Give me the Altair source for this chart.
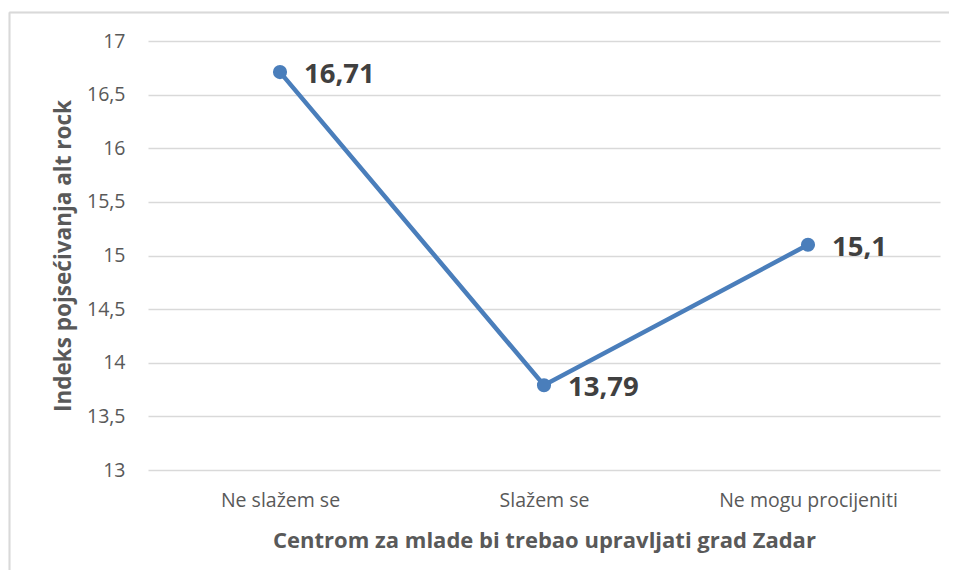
import altair as alt
import pandas as pd

categories = ["Ne slažem se", "Slažem se", "Ne mogu procijeniti"]
values = [16.71, 13.79, 15.1]
labels = ["16,71", "13,79", "15,1"]

df = pd.DataFrame({"cat": categories, "val": values, "lab": labels})

FONT = "Open Sans"
LINE = "#4a7ebb"

x = alt.X("cat:N", sort=categories,
          scale=alt.Scale(type="point", padding=0.5),
          axis=alt.Axis(title="Centrom za mlade bi trebao upravljati grad Zadar",
                        labelAngle=0, ticks=False, domain=False, grid=False,
                        labelFontSize=19.5, labelColor="#595959", labelFont=FONT,
                        labelPadding=21,
                        titleFontSize=22, titleFontWeight="bold", titleColor="#595959",
                        titleFont=FONT, titlePadding=21))
y = alt.Y("val:Q",
          scale=alt.Scale(domain=[13, 17], nice=False, zero=False),
          axis=alt.Axis(title="Indeks pojsećivanja alt rock",
                        values=[13, 13.5, 14, 14.5, 15, 15.5, 16, 16.5, 17],
                        labelExpr="replace(format(datum.value, '.1~f'), '.', ',')",
                        ticks=False, domain=False, grid=True, gridColor="#d9d9d9",
                        gridWidth=1.5,
                        labelFontSize=19.5, labelColor="#595959", labelFont=FONT,
                        labelPadding=23,
                        titleFontSize=22.5, titleFontWeight="bold", titleColor="#595959",
                        titleFont=FONT, titlePadding=11))

base = alt.Chart(df)
line = base.mark_line(color=LINE, strokeWidth=4.5).encode(x=x, y=y)
pts = base.mark_point(filled=True, color=LINE, size=200, opacity=1).encode(x=x, y=y)
txt = base.mark_text(align="left", baseline="middle", dx=24, dy=3, fontSize=27.5,
                     fontWeight="bold", color="#404040", font=FONT).encode(
    x=x, y=y, text="lab:N")

left_border = alt.Chart(df).mark_rule(color="#d9d9d9", strokeWidth=1.5).encode(
    x=alt.value(-138.5), y=alt.value(-28.5), y2=alt.value(600))
top_border = alt.Chart(df).mark_rule(color="#d9d9d9", strokeWidth=1.5).encode(
    x=alt.value(-138.5), x2=alt.value(820), y=alt.value(-28.5))

chart = alt.layer(left_border, top_border, line, pts, txt).properties(
    width=792, height=429,
    padding={"left": 140, "top": 33, "right": 9, "bottom": 100},
    autosize=alt.AutoSizeParams(type="none"),
    background="white",
).configure_view(stroke=None)

chart.save("out.html", embed_options={"renderer": "svg", "actions": False})
